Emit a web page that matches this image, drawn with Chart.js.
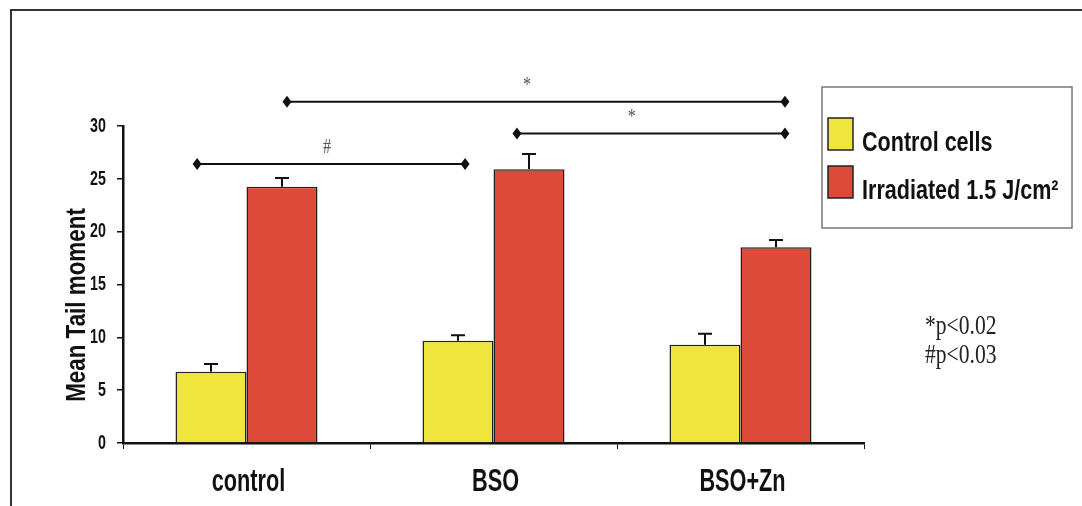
<!DOCTYPE html>
<html>
<head>
<meta charset="utf-8">
<script src="https://cdn.jsdelivr.net/npm/chart.js@4/dist/chart.umd.min.js"></script>
<style>
html,body{margin:0;padding:0;background:#fff;}
#wrap{width:1082px;height:506px;position:relative;}
</style>
</head>
<body>
<div id="wrap"><canvas id="c" width="1082" height="506"></canvas></div>
<script>
const categories = ['control', 'BSO', 'BSO+Zn'];
const seriesNames = ['Control cells', 'Irradiated 1.5 J/cm²'];
const controlCells = [6.75, 9.68, 9.30];
const controlCellsErr = [0.73, 0.51, 1.04];
const irradiated = [24.25, 25.9, 18.52];
const irradiatedErr = [0.83, 1.45, 0.69];
const yTicks = [0, 5, 10, 15, 20, 25, 30];
const yTitle = 'Mean Tail moment';
const bracketFrom = [-0.2, 0.164, 1.095];
const bracketTo = [0.885, 2.18, 2.18];
const bracketLevel = [26.4, 32.3, 29.3];
const bracketLabel = ['#', '*', '*'];
const bracketLabelPos = [0.326, 1.136, 1.56];
const pNotes = ['*p<0.02', '#p<0.03'];

const SANS = '"Liberation Sans", Arial, sans-serif';
const SERIF = '"Liberation Serif", "Times New Roman", serif';
const YELLOW = '#efe53c';
const RED = '#de4a3a';

function drawText(ctx, text, x, y, font, sx, align, baseline, color) {
  ctx.save();
  ctx.translate(x, y);
  ctx.scale(sx, 1);
  ctx.font = font;
  ctx.fillStyle = color || '#111';
  ctx.textAlign = align;
  ctx.textBaseline = baseline;
  ctx.fillText(text, 0, 0);
  ctx.restore();
}

const decorPlugin = {
  id: 'decor',
  afterDatasetsDraw(chart) {
    const ctx = chart.ctx;
    const xs = chart.scales.x, ys = chart.scales.y;
    const errs = [controlCellsErr, irradiatedErr];
    ctx.save();
    ctx.strokeStyle = '#111';
    ctx.lineWidth = 2;
    chart.data.datasets.forEach((ds, di) => {
      const meta = chart.getDatasetMeta(di);
      meta.data.forEach((el, i) => {
        const top = ys.getPixelForValue(ds.data[i] + errs[di][i]);
        ctx.beginPath();
        ctx.moveTo(el.x, el.y);
        ctx.lineTo(el.x, top);
        ctx.moveTo(el.x - 7, top);
        ctx.lineTo(el.x + 7, top);
        ctx.stroke();
      });
    });
    // significance brackets
    bracketFrom.forEach((f, i) => {
      const x1 = xs.getPixelForValue(f);
      const x2 = xs.getPixelForValue(bracketTo[i]);
      const y = ys.getPixelForValue(bracketLevel[i]);
      ctx.strokeStyle = '#111';
      ctx.lineWidth = 2;
      ctx.beginPath();
      ctx.moveTo(x1, y);
      ctx.lineTo(x2, y);
      ctx.stroke();
      ctx.fillStyle = '#111';
      [x1, x2].forEach(x => {
        ctx.beginPath();
        ctx.moveTo(x, y - 6);
        ctx.lineTo(x + 4.5, y);
        ctx.lineTo(x, y + 6);
        ctx.lineTo(x - 4.5, y);
        ctx.closePath();
        ctx.fill();
      });
      drawText(ctx, bracketLabel[i], xs.getPixelForValue(bracketLabelPos[i]), y - 16,
        '20px ' + SERIF, 0.8, 'center', 'middle', '#555');
    });
    ctx.restore();
  },
  afterDraw(chart) {
    const ctx = chart.ctx;
    const ca = chart.chartArea;
    const xs = chart.scales.x, ys = chart.scales.y;
    ctx.save();
    // outer frame
    ctx.strokeStyle = '#333';
    ctx.lineWidth = 2;
    ctx.beginPath();
    ctx.moveTo(11, 506);
    ctx.lineTo(11, 10);
    ctx.lineTo(1082, 10);
    ctx.stroke();
    // y tick labels (from the scale's ticks)
    ys.ticks.forEach(t => {
      drawText(ctx, String(t.value), ca.left - 17, ys.getPixelForValue(t.value),
        'bold 21px ' + SANS, 0.68, 'right', 'middle');
    });
    // x category labels (from the scale's labels)
    xs.getLabels().forEach((lab, i) => {
      drawText(ctx, lab, xs.getPixelForValue(i) + 2, 491, 'bold 31px ' + SANS, 0.7, 'center', 'alphabetic');
    });
    // y title
    ctx.save();
    ctx.translate(77, 305);
    ctx.rotate(-Math.PI / 2);
    drawText(ctx, yTitle, 0, 0, 'bold 28px ' + SANS, 0.8, 'center', 'middle');
    ctx.restore();
    // legend box
    const lx = ca.right - 42, ly = 87, lw = 250, lh = 141;
    ctx.strokeStyle = '#777';
    ctx.lineWidth = 1.5;
    ctx.strokeRect(lx, ly, lw, lh);
    const colors = [YELLOW, RED];
    seriesNames.forEach((name, i) => {
      const sy = 118 + i * 48;
      ctx.fillStyle = colors[i];
      ctx.fillRect(lx + 6, sy, 25, 32);
      ctx.strokeStyle = '#222';
      ctx.lineWidth = 1.5;
      ctx.strokeRect(lx + 6, sy, 25, 32);
      drawText(ctx, name, lx + 40, sy + 33, 'bold 28px ' + SANS, 0.77, 'left', 'alphabetic');
    });
    // p-value notes
    pNotes.forEach((t, i) => drawText(ctx, t, 925, 327 + i * 29, '27px ' + SERIF, 0.8, 'left', 'middle', '#222'));
    ctx.restore();
  }
};

new Chart(document.getElementById('c'), {
  type: 'bar',
  data: {
    labels: categories,
    datasets: [
      { label: seriesNames[0], data: controlCells, backgroundColor: YELLOW, borderColor: '#222', borderWidth: 1.5, borderSkipped: 'bottom' },
      { label: seriesNames[1], data: irradiated, backgroundColor: RED, borderColor: '#222', borderWidth: 1.5, borderSkipped: 'bottom' }
    ]
  },
  options: {
    responsive: false,
    animation: false,
    layout: { padding: { left: 0, right: 218, top: 126, bottom: 0 } },
    plugins: { legend: { display: false }, tooltip: { enabled: false } },
    datasets: { bar: { categoryPercentage: 0.575, barPercentage: 1.0 } },
    scales: {
      x: {
        offset: true,
        grid: { display: true, offset: true, drawOnChartArea: false, drawTicks: true, tickLength: 6, color: '#111', lineWidth: 1 },
        border: { display: true, color: '#111', width: 2.5 },
        ticks: { display: false },
        afterFit(s) { s.height = 63; }
      },
      y: {
        min: 0, max: 30,
        afterBuildTicks(s) { s.ticks = yTicks.map(v => ({ value: v })); },
        grid: { display: true, drawOnChartArea: false, drawTicks: true, tickLength: 6, color: '#111', lineWidth: 1.5 },
        border: { display: true, color: '#111', width: 2.5 },
        ticks: { display: false },
        afterFit(s) { s.width = 123; }
      }
    }
  },
  plugins: [decorPlugin]
});
</script>
</body>
</html>
